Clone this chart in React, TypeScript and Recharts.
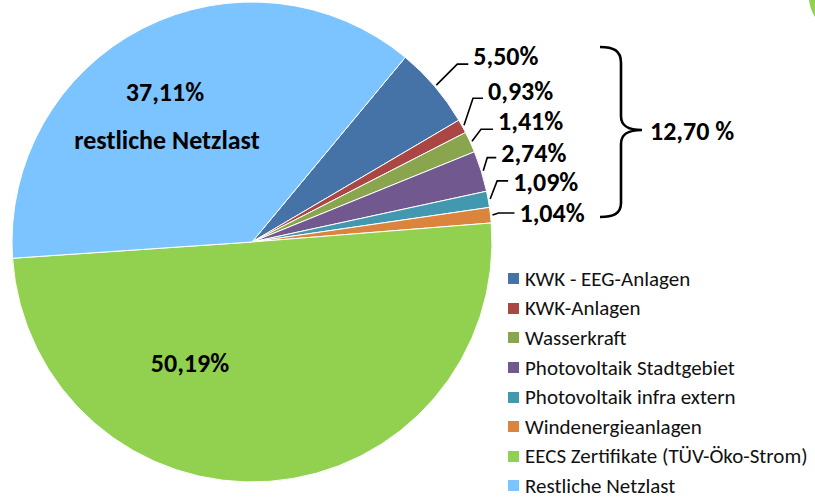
import React from 'react';
import { PieChart, Pie, Cell, Legend, Customized } from 'recharts';

const categories = [
  'KWK - EEG-Anlagen',
  'KWK-Anlagen',
  'Wasserkraft',
  'Photovoltaik Stadtgebiet',
  'Photovoltaik infra extern',
  'Windenergieanlagen',
  'EECS Zertifikate (TÜV-Öko-Strom)',
  'Restliche Netzlast',
];
const shares = [5.5, 0.93, 1.41, 2.74, 1.09, 1.04, 50.19, 37.11];
const groupTotalLabel = '12,70 %';
const restLabelName = 'restliche Netzlast';

const colors = ['#4572A7', '#AA4643', '#89A54E', '#71588F', '#4198AF', '#DB843D', '#92D050', '#7CC4FF'];

const FONT = 'Carlito, Lato, "Open Sans", sans-serif';
const LABEL_SIZE = 26;

// label layout offsets relative to each slice's outer anchor point (small slices)
const smallLabelLayout = [
  { ex: 21, ey: -21, tx: 37, ty: -29 },
  { ex: 9, ey: -27, tx: 24, ty: -34 },
  { ex: 9, ey: -12, tx: 26, ty: -20 },
  { ex: 4, ey: -13, tx: 18, ty: -18 },
  { ex: 7, ey: -18, tx: 23, ty: -17 },
  { ex: 6, ey: -2, tx: 27, ty: -2 },
];

const data = categories.map((name, i) => ({ name, value: shares[i], fill: colors[i] }));

const fmt = (v: number) => v.toFixed(2).replace('.', ',') + '%';
const RAD = Math.PI / 180;

const renderLabel = (props: any) => {
  const { cx, cy, midAngle, outerRadius, index, value } = props;
  if (index < 6) {
    const ax = cx + (outerRadius + 2) * Math.cos(-midAngle * RAD);
    const ay = cy + (outerRadius + 2) * Math.sin(-midAngle * RAD);
    const l = smallLabelLayout[index];
    const ex = ax + l.ex;
    const ey = ay + l.ey;
    const tx = ax + l.tx;
    const ty = ay + l.ty;
    const lx = tx - 5;
    return (
      <g key={`lbl-${index}`}>
        <polyline
          points={`${ax},${ay} ${ex},${ey} ${lx},${ey}`}
          fill="none"
          stroke="#000"
          strokeWidth={1.6}
        />
        <text x={tx} y={ty} textAnchor="start" dominantBaseline="central" fontFamily={FONT} fontWeight="bold" fontSize={LABEL_SIZE} fill="#000">
          {fmt(value)}
        </text>
      </g>
    );
  }
  if (index === 6) {
    return (
      <text key="lbl-6" x={cx - 62} y={cy + 121} textAnchor="middle" dominantBaseline="central" fontFamily={FONT} fontWeight="bold" fontSize={LABEL_SIZE} fill="#000">
        {fmt(value)}
      </text>
    );
  }
  return (
    <g key="lbl-7">
      <text x={cx - 87} y={cy - 150} textAnchor="middle" dominantBaseline="central" fontFamily={FONT} fontWeight="bold" fontSize={LABEL_SIZE} fill="#000">
        {fmt(value)}
      </text>
      <text x={cx - 85} y={cy - 102} textAnchor="middle" dominantBaseline="central" fontFamily={FONT} fontWeight="bold" fontSize={LABEL_SIZE} fill="#000">
        {restLabelName}
      </text>
    </g>
  );
};

const renderLegend = () => (
  <div style={{ fontFamily: FONT, fontSize: 21, lineHeight: '24px', color: '#111' }}>
    {categories.map((name, i) => (
      <div key={i} style={{ height: 29.6, display: 'flex', alignItems: 'center', whiteSpace: 'nowrap' }}>
        <span style={{ display: 'inline-block', width: 11, height: 11, background: colors[i], marginRight: 6, flex: 'none' }} />
        <span>{name}</span>
      </div>
    ))}
  </div>
);

const Brace = () => (
  <g>
    <path
      d="M600,47 C613,47 621,50 621,63 L621,116 C621,126 628,130 642,130 C628,130 621,134 621,144 L621,203 C621,214 613,217 600,217"
      fill="none"
      stroke="#000"
      strokeWidth={2.6}
    />
    <text x={650} y={131} textAnchor="start" dominantBaseline="central" fontFamily={FONT} fontWeight="bold" fontSize={LABEL_SIZE} fill="#000">
      {groupTotalLabel}
    </text>
    <path d="M809,0 Q810,9 815,17 L815,0 Z" fill="#92D050" />
  </g>
);

export default function App() {
  return (
    <div style={{ position: 'absolute', left: 0, top: 0, width: 815, height: 498, background: '#fff' }}>
      <PieChart width={815} height={498} margin={{ top: 0, right: 0, bottom: 0, left: 0 }}>
        <Pie
          data={data}
          dataKey="value"
          nameKey="name"
          cx={252}
          cy={242}
          outerRadius={240}
          startAngle={50.3}
          endAngle={-309.7}
          stroke="#fff"
          strokeWidth={1}
          isAnimationActive={false}
          label={renderLabel}
          labelLine={false}
        >
          {data.map((d, i) => (
            <Cell key={i} fill={colors[i]} />
          ))}
        </Pie>
        <Legend
          content={renderLegend}
          layout="vertical"
          wrapperStyle={{ position: 'absolute', left: 508, top: 264, width: 307 }}
        />
        <Customized component={Brace} />
      </PieChart>
    </div>
  );
}
